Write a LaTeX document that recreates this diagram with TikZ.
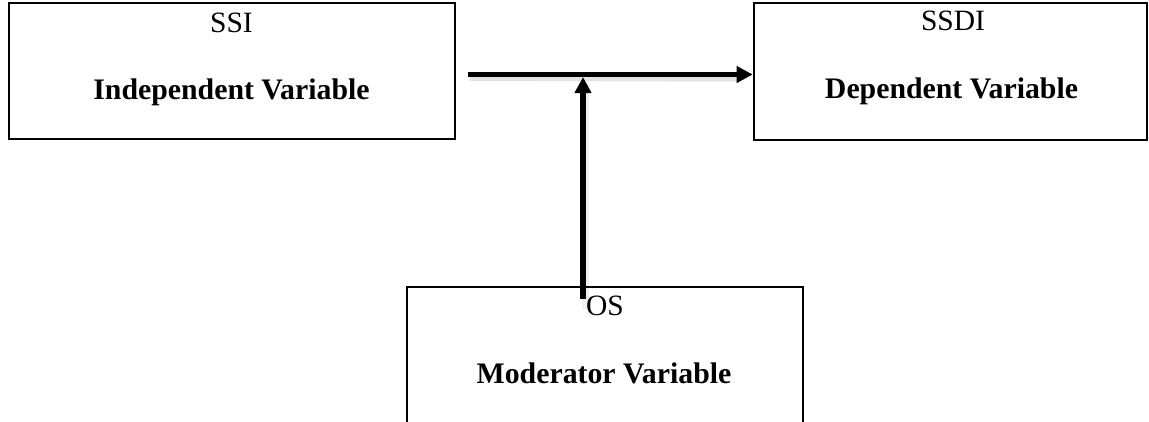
\documentclass[tikz,border=0pt]{standalone}
\usepackage{fontspec}
\setmainfont{Liberation Serif}
\usetikzlibrary{arrows.meta}
\begin{document}
\begin{tikzpicture}[x=1pt,y=1pt,
  varbox/.style={draw=black, line width=2.6pt, rectangle, inner sep=0pt},
  codelbl/.style={anchor=base, inner sep=0pt, font=\fontsize{29.5}{34}\selectfont},
  varlbl/.style={anchor=base, inner sep=0pt, font=\fontsize{29.8}{34}\selectfont\bfseries},
  link/.style={line width=5.5pt, -{Triangle[length=16pt,width=16pt]}},
  haze/.style={line width=7pt, draw=black, opacity=0.06}
]
\useasboundingbox (0,0) rectangle (1149,-421);
\clip (0,0) rectangle (1149,-421);

% the three variable boxes
\node[varbox, minimum width=446pt, minimum height=136pt] (ind) at (232,-71) {};
\node[varbox, minimum width=393pt, minimum height=137pt] (dep) at (950.5,-71.5) {};
\node[varbox, minimum width=396pt, minimum height=152pt] (mod) at (605,-363) {};

% labels
\node[codelbl] (ssi)  at (231.5,-32) {SSI};
\node[varlbl]  (indn) at (231.5,-99) {Independent Variable};
\node[codelbl] (ssdi) at (953,-30) {SSDI};
\node[varlbl]  (depn) at (951.5,-98) {Dependent Variable};
\node[codelbl] (os)   at (605,-315) {OS};
\node[varlbl]  (modn) at (604,-383) {Moderator Variable};

% junction where the moderator meets the main path
\coordinate (j) at (583,-74.5);
\coordinate (hstart) at ([xshift=12pt]ind.east |- j);
\coordinate (hend) at (dep.west |- j);
\coordinate (vstart) at ([yshift=-13pt]mod.north -| j);

% soft shadow under the arrows
\draw[haze] ([shift={(1,-3)}]hstart) -- ([shift={(-12,-3)}]hend);
\draw[haze] ([shift={(2,-3)}]hstart) -- ([shift={(-14,-4)}]hend);
\draw[haze] ([shift={(2.5,-10)}]vstart) -- ([shift={(2.5,-16)}]j);

% arrows
\draw[link] (hstart) -- (hend);
\draw[link, shorten >=2.5pt] (vstart) -- (j);
\end{tikzpicture}
\end{document}
